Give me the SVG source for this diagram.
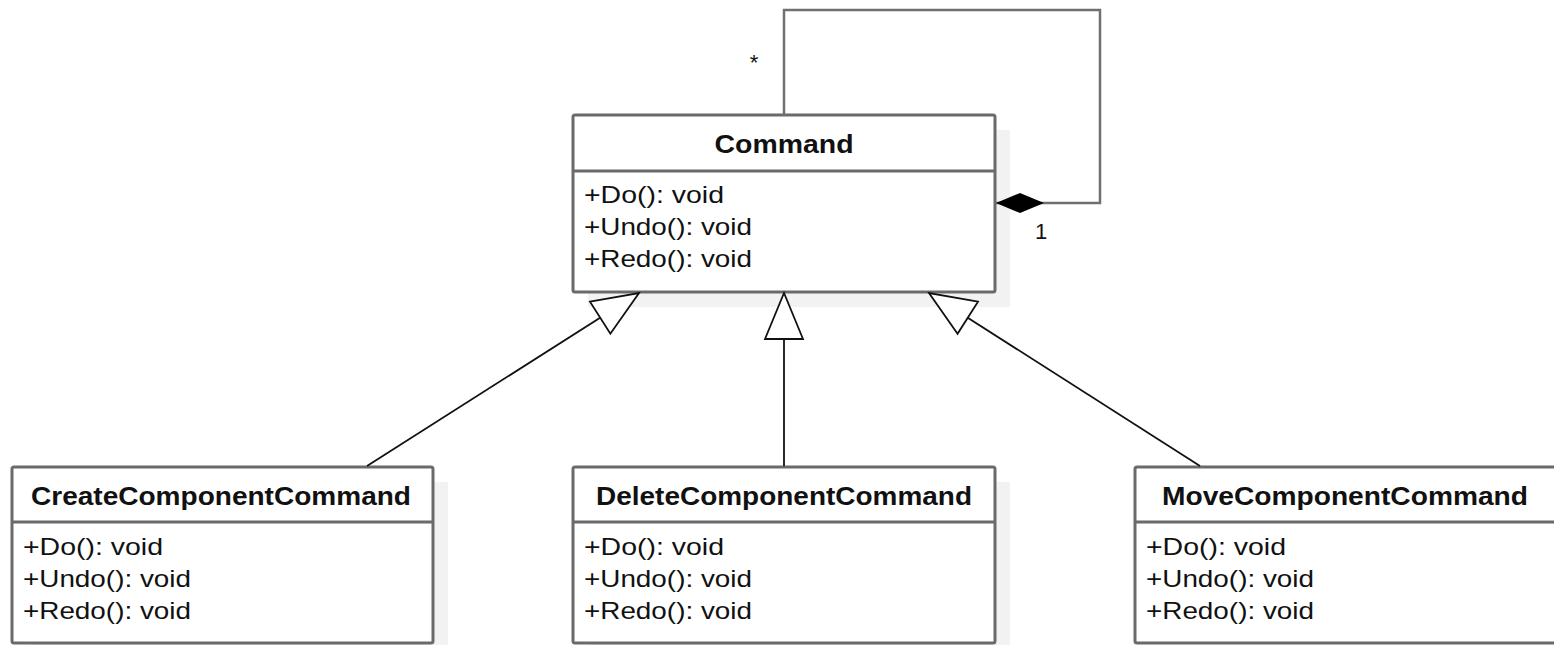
<svg xmlns="http://www.w3.org/2000/svg" width="1554" height="645" viewBox="0 0 1554 645">
<style>
  .shadow { fill: #f2f2f2; }
  .box { fill: #ffffff; stroke: #6a6a6a; stroke-width: 3; }
  .div { stroke: #6a6a6a; stroke-width: 3; }
  .title { font-family: "Liberation Sans", Arial, sans-serif; font-weight: bold; font-size: 26px; fill: #111; text-anchor: middle; }
  .mem { font-family: "Liberation Sans", Arial, sans-serif; font-size: 24px; fill: #111; }
  .lbl { font-family: "Liberation Sans", Arial, sans-serif; font-size: 22px; fill: #111; }
  .gen { fill: none; stroke: #111; stroke-width: 1.8; marker-end: url(#tri); }
  .loop { fill: none; stroke: #707070; stroke-width: 2.5; marker-end: url(#dia); }
</style>
<defs>
  <marker id="tri" markerUnits="userSpaceOnUse" markerWidth="50" markerHeight="42" viewBox="0 0 50 42" refX="48" refY="21" orient="auto">
    <path d="M2,2 L48,21 L2,40 Z" fill="#fff" stroke="#111" stroke-width="1.8"/>
  </marker>
  <marker id="dia" markerUnits="userSpaceOnUse" markerWidth="50" markerHeight="22" viewBox="0 0 50 22" refX="49" refY="11" orient="auto">
    <path d="M1,11 L25,1 L49,11 L25,21 Z" fill="#000"/>
  </marker>
</defs>

<g id="Command">
  <rect class="shadow" x="588" y="130" width="422" height="177"/>
  <rect class="box" x="573" y="115" width="422" height="177" rx="2"/>
  <line class="div" x1="573" y1="171" x2="995" y2="171"/>
  <text class="title" x="784" y="153" textLength="139" lengthAdjust="spacingAndGlyphs">Command</text>
  <text class="mem" x="584" y="203" textLength="140" lengthAdjust="spacingAndGlyphs">+Do(): void</text>
  <text class="mem" x="584" y="235" textLength="168" lengthAdjust="spacingAndGlyphs">+Undo(): void</text>
  <text class="mem" x="584" y="267" textLength="168" lengthAdjust="spacingAndGlyphs">+Redo(): void</text>
</g>

<g id="CreateComponentCommand">
  <rect class="shadow" x="27" y="482" width="421" height="176"/>
  <rect class="box" x="12" y="467" width="421" height="176" rx="2"/>
  <line class="div" x1="12" y1="522" x2="433" y2="522"/>
  <text class="title" x="221" y="505" textLength="380" lengthAdjust="spacingAndGlyphs">CreateComponentCommand</text>
  <text class="mem" x="23" y="555" textLength="140" lengthAdjust="spacingAndGlyphs">+Do(): void</text>
  <text class="mem" x="23" y="587" textLength="168" lengthAdjust="spacingAndGlyphs">+Undo(): void</text>
  <text class="mem" x="23" y="619" textLength="168" lengthAdjust="spacingAndGlyphs">+Redo(): void</text>
</g>

<g id="DeleteComponentCommand">
  <rect class="shadow" x="588" y="482" width="422" height="176"/>
  <rect class="box" x="573" y="467" width="422" height="176" rx="2"/>
  <line class="div" x1="573" y1="522" x2="995" y2="522"/>
  <text class="title" x="784" y="505" textLength="376" lengthAdjust="spacingAndGlyphs">DeleteComponentCommand</text>
  <text class="mem" x="584" y="555" textLength="140" lengthAdjust="spacingAndGlyphs">+Do(): void</text>
  <text class="mem" x="584" y="587" textLength="168" lengthAdjust="spacingAndGlyphs">+Undo(): void</text>
  <text class="mem" x="584" y="619" textLength="168" lengthAdjust="spacingAndGlyphs">+Redo(): void</text>
</g>

<g id="MoveComponentCommand">
  <rect class="box" x="1135" y="467" width="422" height="176" rx="2"/>
  <line class="div" x1="1135" y1="522" x2="1557" y2="522"/>
  <text class="title" x="1345" y="505" textLength="366" lengthAdjust="spacingAndGlyphs">MoveComponentCommand</text>
  <text class="mem" x="1146" y="555" textLength="140" lengthAdjust="spacingAndGlyphs">+Do(): void</text>
  <text class="mem" x="1146" y="587" textLength="168" lengthAdjust="spacingAndGlyphs">+Undo(): void</text>
  <text class="mem" x="1146" y="619" textLength="168" lengthAdjust="spacingAndGlyphs">+Redo(): void</text>
</g>

<g id="connectors">
  <path class="loop" d="M784,115 V10 H1100 V203 H996"/>
  <path class="gen" d="M367,466 L639,293"/>
  <path class="gen" d="M784,466 L784,293"/>
  <path class="gen" d="M1200,466 L929,293"/>
  <text class="lbl" x="754" y="70" text-anchor="middle">*</text>
  <text class="lbl" x="1041" y="239" text-anchor="middle">1</text>
</g>
</svg>
